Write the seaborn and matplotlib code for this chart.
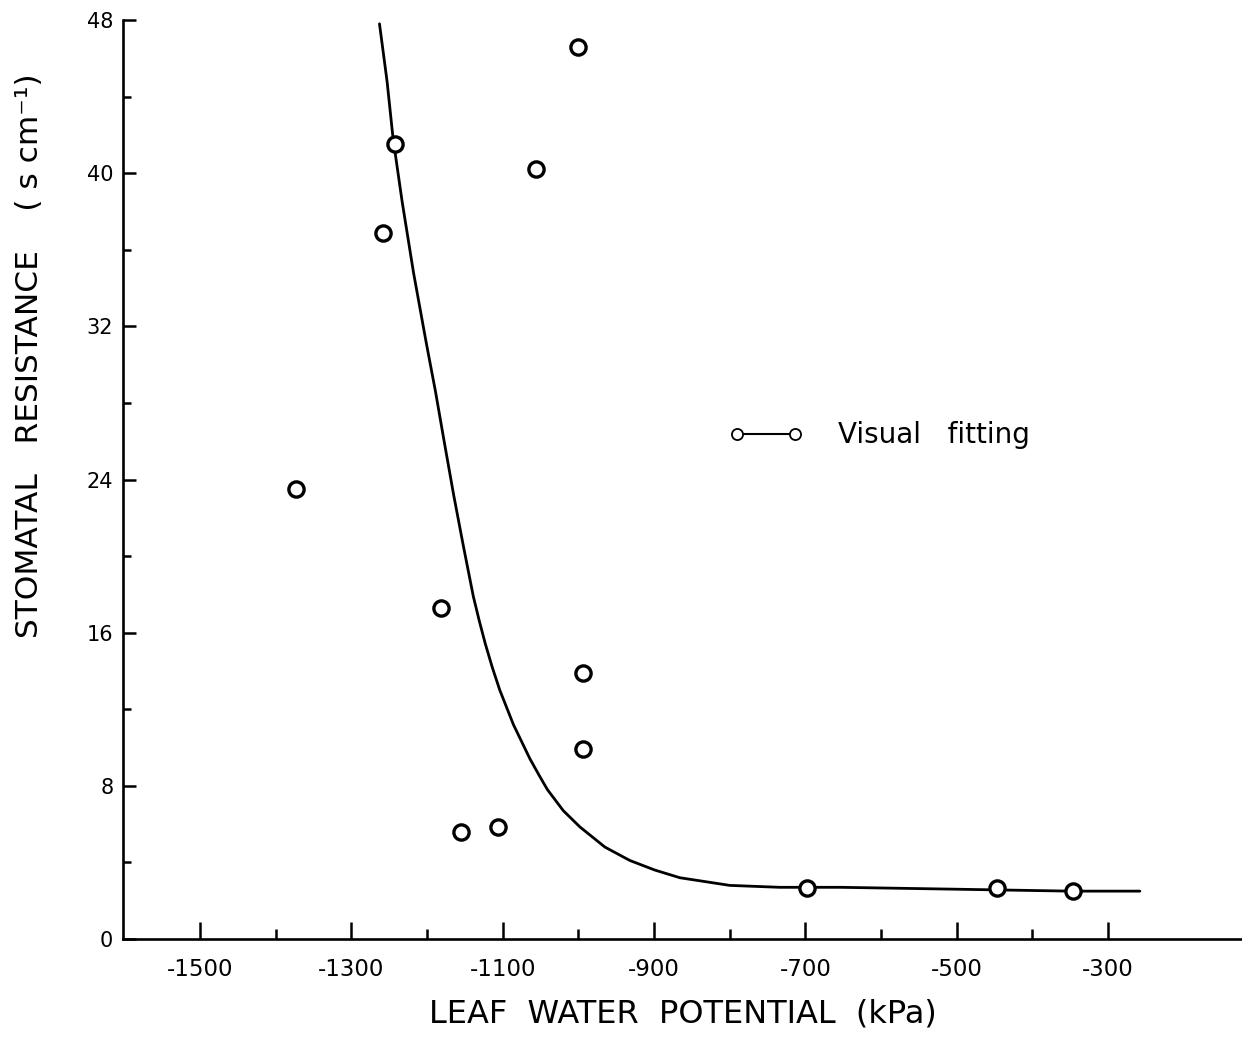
import matplotlib
matplotlib.use("Agg")
import matplotlib.pyplot as plt
from matplotlib.lines import Line2D
import seaborn as sns
import pandas as pd

# observed points
obs_potential = [-1374, -1259, -1242, -1182, -1155, -1106, -1056, -1000, -994, -994, -698, -447, -346]
obs_resistance = [23.5, 36.9, 41.5, 17.3, 5.6, 5.85, 40.2, 46.6, 13.9, 9.9, 2.65, 2.65, 2.5]

# visual fitting curve
fit_potential = [-1263, -1253, -1245, -1233, -1218, -1201, -1189, -1178, -1165, -1152,
                 -1139, -1131, -1123, -1114, -1104, -1095, -1086, -1075, -1064, -1052,
                 -1041, -1020, -998, -965, -932, -899, -866, -800, -734, -654,
                 -500, -350, -258]
fit_resistance = [47.8, 44.8, 41.8, 38.5, 34.8, 31.1, 28.6, 26.1, 23.2, 20.5,
                  17.9, 16.6, 15.4, 14.2, 13.0, 12.1, 11.2, 10.3, 9.4, 8.55,
                  7.8, 6.7, 5.85, 4.8, 4.1, 3.6, 3.2, 2.8, 2.7, 2.7,
                  2.6, 2.5, 2.5]

x_major = [-1500, -1300, -1100, -900, -700, -500, -300]
x_minor = [-1400, -1200, -1000, -800, -600, -400]
y_major = [0, 8, 16, 24, 32, 40, 48]
y_minor = [4, 12, 20, 28, 36, 44]

sns.set_theme(style="ticks")
plt.rcParams['font.family'] = ['DejaVu Sans']

fig = plt.figure(figsize=(12.42, 10.37), dpi=100)
ax = fig.add_axes([123 / 1242, 1 - 939 / 1037, (1242 - 123) / 1242, (939 - 20) / 1037])

obs = pd.DataFrame({"x": obs_potential, "y": obs_resistance})
fit = pd.DataFrame({"x": fit_potential, "y": fit_resistance})

sns.lineplot(data=fit, x="x", y="y", ax=ax, color="black", linewidth=2.0,
             sort=False, estimator=None)
sns.scatterplot(data=obs, x="x", y="y", ax=ax, marker="o", s=120,
                facecolor="white", edgecolor="black", linewidth=2.4, zorder=3)

ax.set_xlim(-1602, -123)
ax.set_ylim(0, 48)
ax.set_xticks(x_major)
ax.set_xticks(x_minor, minor=True)
ax.set_yticks(y_major)
ax.set_yticks(y_minor, minor=True)
ax.set_xticklabels([f"-{abs(v)}" for v in x_major])
ax.set_yticklabels([str(v) for v in y_major])

for s in ["top", "right"]:
    ax.spines[s].set_visible(False)
for s in ["left", "bottom"]:
    ax.spines[s].set_linewidth(1.9)
    ax.spines[s].set_color("black")

ax.tick_params(which="both", direction="in", width=1.8, color="black", labelcolor="black")
ax.tick_params(axis="x", which="major", length=12, pad=14, labelsize=16.5)
ax.tick_params(axis="x", which="minor", length=7)
ax.tick_params(axis="y", which="major", length=9, pad=7, labelsize=15)
ax.tick_params(axis="y", which="minor", length=6)

ax.set_xlabel("LEAF  WATER  POTENTIAL  (kPa)", fontsize=23, labelpad=12, color="black")
ax.set_ylabel("STOMATAL   RESISTANCE    ( s cm\u207b\u00b9)", fontsize=22.5, color="black")
ax.yaxis.set_label_coords(-0.071, 0.635)

handle = Line2D([], [], color="black", linewidth=1.5, marker="o", markersize=8,
                markerfacecolor="white", markeredgecolor="black", markeredgewidth=1.3)
leg = ax.legend([handle], ["Visual   fitting"], loc="center left",
                bbox_to_anchor=(0.519, 0.548), frameon=False, numpoints=2,
                handlelength=2.7, handletextpad=1.25, fontsize=20)
for t in leg.get_texts():
    t.set_color("black")

ax.set_facecolor("white")
fig.patch.set_facecolor("white")
fig.savefig("out.png", dpi=100)
